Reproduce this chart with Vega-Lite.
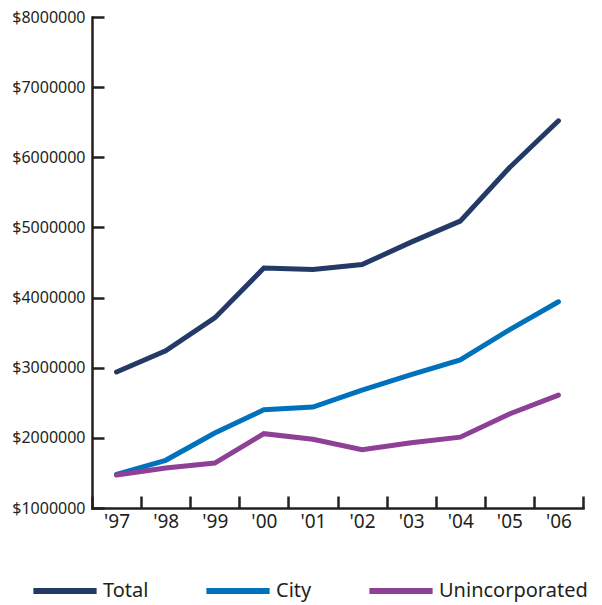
{
  "$schema": "https://vega.github.io/schema/vega-lite/v6.json",
  "autosize": {"type": "none"},
  "padding": {"left": 92, "top": 17, "right": 19, "bottom": 97},
  "width": 491,
  "height": 491,
  "background": "white",
  "config": {"view": {"stroke": null}, "font": "Noto Sans"},
  "data": {"values": [
    {"year": "'97", "series": "Total", "value": 2940000},
    {"year": "'98", "series": "Total", "value": 3240000},
    {"year": "'99", "series": "Total", "value": 3710000},
    {"year": "'00", "series": "Total", "value": 4420000},
    {"year": "'01", "series": "Total", "value": 4400000},
    {"year": "'02", "series": "Total", "value": 4470000},
    {"year": "'03", "series": "Total", "value": 4790000},
    {"year": "'04", "series": "Total", "value": 5090000},
    {"year": "'05", "series": "Total", "value": 5850000},
    {"year": "'06", "series": "Total", "value": 6520000},
    {"year": "'97", "series": "City", "value": 1480000},
    {"year": "'98", "series": "City", "value": 1680000},
    {"year": "'99", "series": "City", "value": 2070000},
    {"year": "'00", "series": "City", "value": 2400000},
    {"year": "'01", "series": "City", "value": 2440000},
    {"year": "'02", "series": "City", "value": 2680000},
    {"year": "'03", "series": "City", "value": 2900000},
    {"year": "'04", "series": "City", "value": 3110000},
    {"year": "'05", "series": "City", "value": 3540000},
    {"year": "'06", "series": "City", "value": 3940000},
    {"year": "'97", "series": "Unincorporated", "value": 1470000},
    {"year": "'98", "series": "Unincorporated", "value": 1570000},
    {"year": "'99", "series": "Unincorporated", "value": 1640000},
    {"year": "'00", "series": "Unincorporated", "value": 2060000},
    {"year": "'01", "series": "Unincorporated", "value": 1980000},
    {"year": "'02", "series": "Unincorporated", "value": 1830000},
    {"year": "'03", "series": "Unincorporated", "value": 1930000},
    {"year": "'04", "series": "Unincorporated", "value": 2010000},
    {"year": "'05", "series": "Unincorporated", "value": 2340000},
    {"year": "'06", "series": "Unincorporated", "value": 2610000}
  ]},
  "mark": {"type": "line", "strokeWidth": 5, "strokeCap": "round", "strokeJoin": "miter"},
  "encoding": {
    "x": {
      "field": "year", "type": "ordinal", "sort": null, "bandPosition": 0.5,
      "scale": {"type": "band", "paddingInner": 0, "paddingOuter": 0},
      "axis": {
        "title": null, "labelAngle": 0, "tickBand": "extent",
        "domainColor": "#231f20", "domainWidth": 2.5, "domainCap": "square",
        "tickColor": "#231f20", "tickWidth": 2.5, "tickSize": -12,
        "labelFont": "Noto Sans", "labelFontSize": 19, "labelColor": "#231f20",
        "labelPadding": 16, "labelOverlap": false
      }
    },
    "y": {
      "field": "value", "type": "quantitative",
      "scale": {"domain": [1000000, 8000000], "nice": false, "zero": false},
      "axis": {
        "title": null, "grid": false,
        "values": [1000000, 2000000, 3000000, 4000000, 5000000, 6000000, 7000000, 8000000],
        "labelExpr": "'$' + datum.value",
        "domainColor": "#231f20", "domainWidth": 2.5, "domainCap": "square",
        "tickColor": "#231f20", "tickWidth": 2.5, "tickSize": -12,
        "labelFont": "Noto Sans", "labelFontSize": 16, "labelColor": "#231f20",
        "labelPadding": 19, "labelOverlap": false, "labelBound": false
      }
    },
    "color": {
      "field": "series", "type": "nominal",
      "sort": ["Total", "City", "Unincorporated"],
      "scale": {"domain": ["Total", "City", "Unincorporated"], "range": ["#243a66", "#0072bc", "#8e3f96"]},
      "legend": {
        "title": null, "orient": "none", "direction": "horizontal",
        "legendX": -38, "legendY": 563,
        "symbolType": "M-4,0H4", "symbolSize": 250, "symbolStrokeWidth": 6,
        "symbolStrokeCap": "round",
        "labelFont": "Noto Sans", "labelFontSize": 20, "labelColor": "#231f20",
        "labelOffset": 27, "columnPadding": 45, "labelLimit": 300
      }
    }
  }
}
